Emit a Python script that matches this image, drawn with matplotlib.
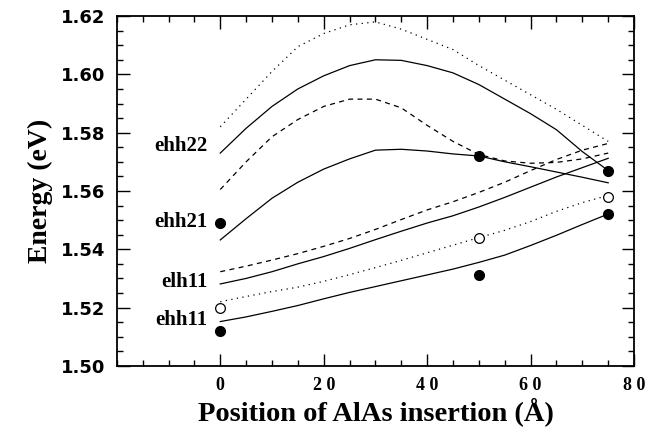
import numpy as np
import matplotlib
matplotlib.use('Agg')
import matplotlib.pyplot as plt

# positions (Angstrom) for the calculated curves
x = np.array([0, 5, 10, 15, 20, 25, 30, 35, 40, 45, 50, 55, 60, 65, 70, 75])

# calculated transition energies (eV)
top_dot = np.array([1.582, 1.5915, 1.601, 1.6095, 1.614, 1.617, 1.618, 1.6155,
                    1.612, 1.6085, 1.603, 1.598, 1.593, 1.588, 1.5825, 1.577])
ehh22_a = np.array([1.573, 1.5815, 1.589, 1.595, 1.5995, 1.603, 1.605, 1.6048,
                    1.603, 1.6005, 1.5965, 1.5915, 1.5865, 1.581, 1.5735, 1.567])
ehh22_b = np.array([1.5605, 1.570, 1.5786, 1.5845, 1.589, 1.5915, 1.5915, 1.5885,
                    1.5825, 1.577, 1.5725, 1.5703, 1.5695, 1.5698, 1.571, 1.573])
ehh21 = np.array([1.5432, 1.5505, 1.5575, 1.563, 1.5675, 1.571, 1.574, 1.5743,
                  1.5737, 1.5727, 1.572, 1.570, 1.5683, 1.5665, 1.5647, 1.5628])
elh_dash = np.array([1.5323, 1.5342, 1.5363, 1.5385, 1.541, 1.5437, 1.5468, 1.5502,
                     1.5535, 1.5563, 1.5595, 1.563, 1.567, 1.5708, 1.574, 1.5763])
elh11 = np.array([1.5281, 1.530, 1.5323, 1.535, 1.5375, 1.5403, 1.5433, 1.5462,
                  1.549, 1.5515, 1.5545, 1.5578, 1.5613, 1.5648, 1.568, 1.5712])
ehh_dot = np.array([1.522, 1.5238, 1.5255, 1.527, 1.529, 1.5313, 1.5337, 1.5362,
                    1.5388, 1.5414, 1.544, 1.5465, 1.5495, 1.553, 1.556, 1.5585])
ehh11 = np.array([1.5152, 1.5168, 1.5187, 1.5207, 1.523, 1.5252, 1.5272, 1.5292,
                  1.5312, 1.5332, 1.5355, 1.538, 1.5413, 1.5448, 1.5485, 1.5521])

# measured points
filled_x = [0, 0, 50, 50, 75, 75]
filled_y = [1.512, 1.549, 1.531, 1.572, 1.567, 1.552]
open_x = [0, 50, 75]
open_y = [1.520, 1.544, 1.558]

level_names = ['ehh22', 'ehh21', 'elh11', 'ehh11']
level_y = [1.5755, 1.5495, 1.5289, 1.5158]

serif = 'Liberation Serif'
dotted = (0, (1, 3.5))
dashed = (0, (4, 3.5))

fig = plt.figure(figsize=(6.49, 4.34), dpi=100)
ax = fig.add_axes([0.180, 0.157, 0.797, 0.806])

lw = 0.9
ax.plot(x, top_dot, color='k', lw=lw, linestyle=dotted)
ax.plot(x, ehh22_a, color='k', lw=lw)
ax.plot(x, ehh22_b, color='k', lw=lw, linestyle=dashed)
ax.plot(x, ehh21, color='k', lw=lw)
ax.plot(x, elh_dash, color='k', lw=lw, linestyle=dashed)
ax.plot(x, elh11, color='k', lw=lw)
ax.plot(x, ehh_dot, color='k', lw=lw, linestyle=dotted)
ax.plot(x, ehh11, color='k', lw=lw)

ax.plot(filled_x, filled_y, 'o', color='k', markersize=7, zorder=5)
ax.plot(open_x, open_y, 'o', markerfacecolor='white', markeredgecolor='k',
        markeredgewidth=0.9, markersize=7, zorder=5)

for name, yy in zip(level_names, level_y):
    ax.text(-2.5, yy, name, ha='right', va='center', fontsize=15,
            fontweight='bold', family=serif)

ax.set_xlim(-20, 80)
ax.set_ylim(1.50, 1.62)
ax.set_xticks([0, 20, 40, 60, 80])
ax.set_xticklabels(['0', '2 0', '4 0', '6 0', '8 0'], family=serif,
                   fontweight='bold', fontsize=13)
ax.set_xticks(np.arange(-20, 81, 5), minor=True)
ax.set_yticks([1.50, 1.52, 1.54, 1.56, 1.58, 1.60, 1.62])
ax.set_yticklabels(['1.50', '1.52', '1.54', '1.56', '1.58', '1.60', '1.62'],
                   family='DejaVu Sans', fontweight='bold', fontsize=13)
ax.set_yticks(np.arange(1.50, 1.6201, 0.005), minor=True)

ax.tick_params(which='both', direction='in', top=True, right=True, width=1)
ax.tick_params(which='major', length=9, pad=8)
ax.tick_params(which='minor', length=4.5)
for s in ax.spines.values():
    s.set_linewidth(1.3)

ax.set_xlabel('Position of AlAs insertion (Å)', family=serif,
              fontweight='bold', fontsize=20.5, labelpad=2)
ax.set_ylabel('Energy (eV)', family=serif, fontweight='bold', fontsize=20,
              labelpad=6)

fig.savefig('out.png', dpi=100)
